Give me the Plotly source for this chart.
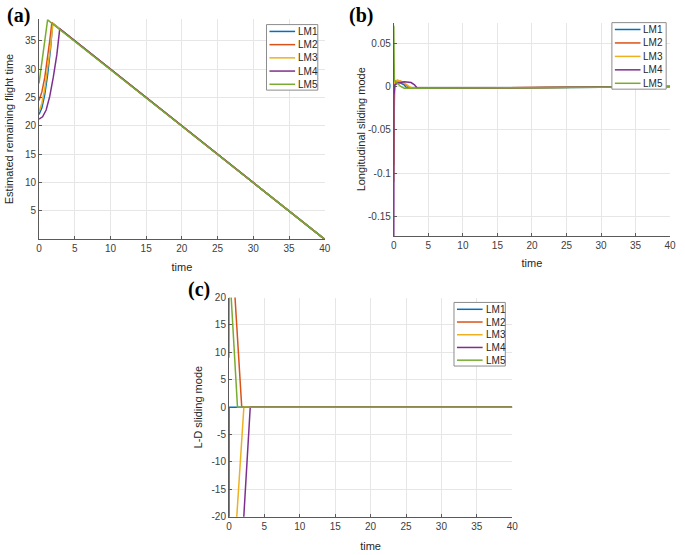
import plotly.graph_objects as go

names = ["LM1", "LM2", "LM3", "LM4", "LM5"]
colors = ["#0072BD", "#D95319", "#EDB120", "#7E2F8E", "#77AC30"]

# (a) Estimated remaining flight time
a_t = [
    [0, 0.4, 0.8, 1.2, 1.6, 1.9, 40],
    [0, 0.4, 0.8, 1.2, 1.5, 1.8, 40],
    [0, 0.4, 0.8, 1.2, 1.6, 1.95, 40],
    [0, 0.5, 1.0, 1.5, 2.0, 2.5, 2.9, 40],
    [0, 0.3, 0.6, 0.9, 1.2, 40],
]
a_v = [
    [22.0, 23.2, 25.5, 29.0, 33.5, 38.1, 0],
    [24.5, 26.0, 28.5, 32.0, 35.0, 38.2, 0],
    [22.5, 24.0, 26.5, 30.0, 34.0, 38.05, 0],
    [21.2, 21.6, 22.8, 25.2, 28.6, 32.6, 37.1, 0],
    [27.5, 30.2, 33.2, 36.2, 38.7, 0],
]

# (b) Longitudinal sliding mode
b_t = [
    [0, 0.02, 0.1, 0.5, 1.0, 1.5, 1.8, 2.2, 5, 20, 30, 40],
    [0, 0.02, 0.1, 0.5, 1.0, 1.6, 2.0, 2.4, 5, 20, 30, 40],
    [0, 0.02, 0.1, 0.5, 1.0, 1.7, 2.2, 2.6, 5, 20, 30, 40],
    [0, 0.03, 0.15, 0.6, 1.5, 2.5, 3.0, 3.4, 5, 20, 30, 40],
    [0, 0.08, 0.2, 0.6, 1.0, 1.5, 5, 20, 30, 40],
]
b_v = [
    [-0.06, -0.005, 0.004, 0.005, 0.004, 0.002, -0.001, -0.002, -0.002, -0.0015, -0.001, 0.0],
    [-0.09, -0.005, 0.005, 0.007, 0.006, 0.003, 0.0, -0.002, -0.002, -0.0015, -0.001, 0.0],
    [-0.11, -0.005, 0.005, 0.007, 0.006, 0.003, 0.0, -0.002, -0.002, -0.0015, -0.001, 0.0],
    [-0.172, -0.01, 0.002, 0.004, 0.0055, 0.0045, 0.002, -0.002, -0.002, -0.0015, -0.001, 0.0],
    [0.07, 0.008, 0.006, 0.003, 0.0, -0.002, -0.002, -0.0015, -0.001, 0.0],
]

# (c) L-D sliding mode
c_t = [
    [0, 0.01, 40],
    [0, 1.8, 40],
    [0, 2.1, 40],
    [0, 3.0, 40],
    [0, 0.06, 0.2, 1.2, 40],
]
c_v = [
    [-60, 0, 0],
    [38, 0, 0],
    [-42, 0, 0],
    [-66, 0, 0],
    [9, 40, 22.5, 0, 0],
]

x_ticks = [0, 5, 10, 15, 20, 25, 30, 35, 40]
a_yticks = [5, 10, 15, 20, 25, 30, 35]
b_yticks = [0.05, 0, -0.05, -0.1, -0.15]
b_yticktext = ["0.05", "0", "-0.05", "-0.1", "-0.15"]
c_yticks = [20, 15, 10, 5, 0, -5, -10, -15, -20]
c_yticktext = ["20", "15", "10", "5", "0", "-5", "-10", "-15", "-20"]

FONT = "Arial, Liberation Sans, sans-serif"

fig = go.Figure()
panels = [("x", "y", a_t, a_v), ("x2", "y2", b_t, b_v), ("x3", "y3", c_t, c_v)]
for xa, ya, ts, vs in panels:
    for i in range(5):
        fig.add_trace(go.Scatter(
            x=ts[i], y=vs[i], mode="lines", name=names[i],
            line=dict(color=colors[i], width=1.5),
            xaxis=xa, yaxis=ya, showlegend=False,
        ))

axis_common = dict(
    showline=True, linecolor="#5a5a5a", linewidth=1,
    showgrid=True, gridcolor="#e6e6e6", gridwidth=1,
    zeroline=False, ticks="inside", ticklen=3, tickcolor="#5a5a5a",
    tickfont=dict(family=FONT, size=10, color="#404040"),
    mirror=False,
)
title_font = dict(family=FONT, size=11, color="#262626")


def px_x(p):
    return p / 685.0


def px_y(p):
    return 1 - p / 555.0


fig.update_layout(
    width=685, height=555,
    margin=dict(l=0, r=0, t=0, b=0),
    paper_bgcolor="white", plot_bgcolor="white",
    showlegend=False,
    xaxis=dict(axis_common, domain=[px_x(36.5), px_x(326)], range=[0, 40], tickvals=x_ticks,
               title=dict(text="time", font=title_font, standoff=9), anchor="y"),
    yaxis=dict(axis_common, domain=[px_y(238.5), px_y(13)], range=[0, 38.9], tickvals=a_yticks,
               title=dict(text="Estimated remaining flight time", font=title_font, standoff=9), anchor="x"),
    xaxis2=dict(axis_common, domain=[px_x(396), px_x(676)], range=[0, 40], tickvals=x_ticks,
                title=dict(text="time", font=title_font, standoff=9), anchor="y2"),
    yaxis2=dict(axis_common, domain=[px_y(235), px_y(17)], range=[-0.172, 0.0735], tickvals=b_yticks,
                ticktext=b_yticktext,
                title=dict(text="Longitudinal sliding mode", font=title_font, standoff=0), anchor="x2"),
    xaxis3=dict(axis_common, domain=[px_x(229), px_x(516)], range=[0, 40], tickvals=x_ticks,
                title=dict(text="time", font=title_font, standoff=11), anchor="y3"),
    yaxis3=dict(axis_common, domain=[px_y(522), px_y(298)], range=[-20, 20], tickvals=c_yticks,
                ticktext=c_yticktext,
                title=dict(text="L-D sliding mode", font=title_font, standoff=6), anchor="x3"),
)

# Legend boxes (MATLAB-style compact legends)
legend_boxes = [(267, 19, 52, 67), (617, 17, 55, 68), (457, 303, 52, 65)]
for left, top, w, h in legend_boxes:
    fig.add_shape(type="rect", xref="paper", yref="paper",
                  x0=px_x(left), x1=px_x(left + w), y0=px_y(top + h), y1=px_y(top),
                  line=dict(color="#8c8c8c", width=1), fillcolor="white", layer="above")
    step = (h - 13) / 4.0
    for i in range(5):
        yc = top + 7 + step * i
        fig.add_shape(type="line", xref="paper", yref="paper",
                      x0=px_x(left + 3), x1=px_x(left + 29), y0=px_y(yc), y1=px_y(yc),
                      line=dict(color=colors[i], width=1.5), layer="above")
        fig.add_annotation(text=names[i], x=px_x(left + 30), y=px_y(yc), xref="paper", yref="paper",
                           xanchor="left", yanchor="middle", showarrow=False,
                           font=dict(family=FONT, size=10, color="#262626"))

label_font = dict(family="Liberation Serif, Times New Roman, serif", size=20, color="black")
for txt, x, y in [("<b>(a)</b>", 2, 10), ("<b>(b)</b>", 349, 10), ("<b>(c)</b>", 185, 290)]:
    fig.add_annotation(text=txt, x=px_x(x), y=px_y(y), xref="paper", yref="paper",
                       xanchor="left", yanchor="middle", showarrow=False, font=label_font)

fig.write_html(
    "out.html",
    config={"displayModeBar": False},
    post_script="document.body.style.margin='0';document.body.style.overflow='hidden';",
)
